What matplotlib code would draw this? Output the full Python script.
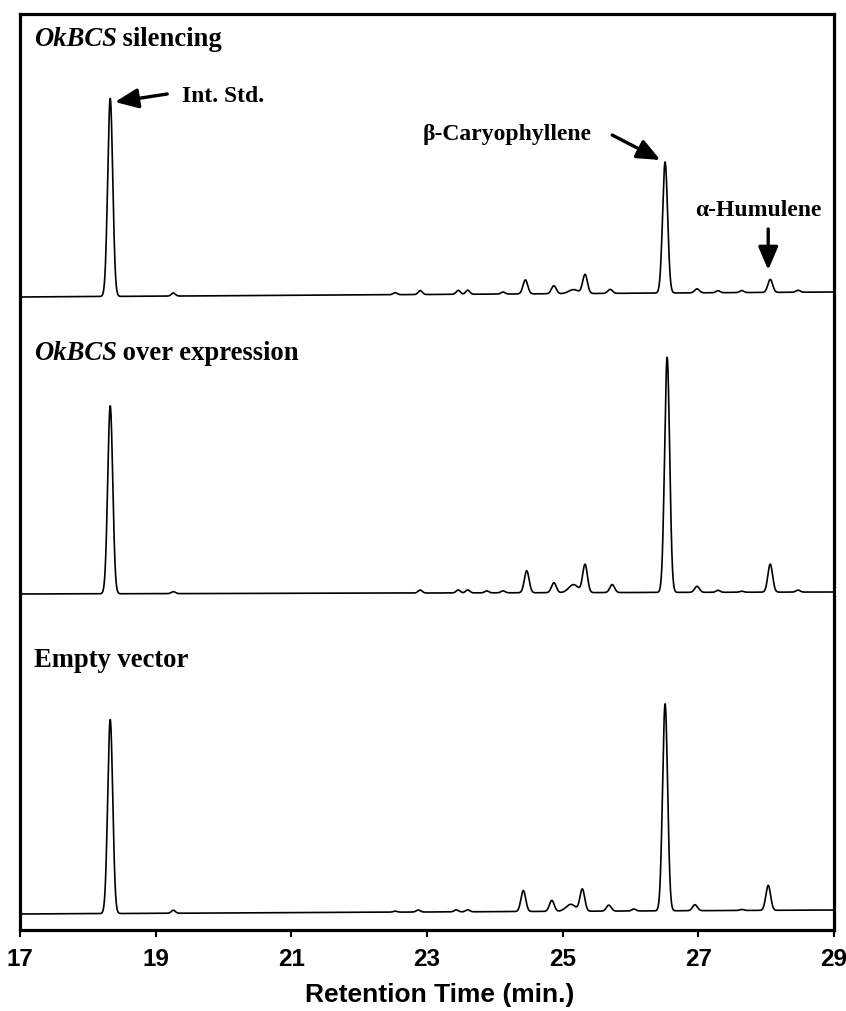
import numpy as np
import matplotlib
matplotlib.use("Agg")
import matplotlib.pyplot as plt

# ---- peak tables (retention time in min, peak height and width in detector units / min) ----
silencing_rt = [18.33, 19.26, 22.53, 22.90, 23.46, 23.60, 24.12, 24.45, 24.87, 25.16, 25.33,
                25.70, 26.51, 26.98, 27.29, 27.64, 28.06, 28.47]
silencing_h = [198, 3, 2, 4, 4, 4, 2, 14, 8, 4, 19, 4, 131, 4, 2, 2, 13, 2]
silencing_w = [0.037, 0.03, 0.03, 0.03, 0.03, 0.03, 0.03, 0.035, 0.035, 0.07, 0.035,
               0.035, 0.037, 0.035, 0.03, 0.03, 0.035, 0.03]
silencing_baseline = (633, 638)

overexp_rt = [18.33, 19.26, 22.90, 23.46, 23.60, 23.88, 24.12, 24.47, 24.87, 25.16, 25.33,
              25.73, 26.54, 26.98, 27.29, 27.64, 28.06, 28.47]
overexp_h = [188, 2, 3, 3, 3, 2, 2, 22, 10, 8, 28, 8, 235, 6, 2, 1, 28, 2]
overexp_w = [0.037, 0.03, 0.03, 0.03, 0.03, 0.03, 0.03, 0.035, 0.035, 0.07, 0.035,
             0.035, 0.037, 0.035, 0.03, 0.03, 0.035, 0.03]
overexp_baseline = (336, 338)

empty_rt = [18.33, 19.26, 22.53, 22.87, 23.43, 23.60, 24.42, 24.84, 25.12, 25.29, 25.68,
            26.05, 26.51, 26.95, 27.64, 28.03]
empty_h = [194, 3, 1, 2, 2, 2, 21, 11, 7, 22, 6, 2, 207, 6, 1, 25]
empty_w = [0.037, 0.03, 0.03, 0.03, 0.03, 0.03, 0.035, 0.035, 0.07, 0.035, 0.035,
           0.03, 0.037, 0.035, 0.03, 0.035]
empty_baseline = (16, 20)

sample_names = ["silencing", "over expression", "Empty vector"]
x_ticks = [17, 19, 21, 23, 25, 27, 29]
x_label = "Retention Time (min.)"


def chromatogram(t, rts, heights, widths, baseline):
    """Sum of Gaussian peaks on a slowly drifting baseline."""
    y = np.linspace(baseline[0], baseline[1], t.size)
    for rt, h, w in zip(rts, heights, widths):
        y = y + h * np.exp(-0.5 * ((t - rt) / w) ** 2)
    return y


t = np.linspace(17.0, 29.0, 6001)

fig = plt.figure(figsize=(8.46, 10.11), dpi=100)
W, H = 846, 1011
ax_left, ax_right, ax_top, ax_bottom = 20, 834, 14, 930
ax = fig.add_axes([ax_left / W, 1 - ax_bottom / H,
                   (ax_right - ax_left) / W, (ax_bottom - ax_top) / H])

for rts, hs, ws, base in [
    (silencing_rt, silencing_h, silencing_w, silencing_baseline),
    (overexp_rt, overexp_h, overexp_w, overexp_baseline),
    (empty_rt, empty_h, empty_w, empty_baseline),
]:
    ax.plot(t, chromatogram(t, rts, hs, ws, base), color="black", lw=1.2)

ax.set_xlim(17, 29)
ax.set_ylim(0, ax_bottom - ax_top)
ax.set_yticks([])
ax.set_xticks(x_ticks)
ax.tick_params(axis="x", direction="out", length=5, width=1.5, pad=8,
               labelsize=17.5)
for lbl in ax.get_xticklabels():
    lbl.set_fontfamily("Liberation Sans")
    lbl.set_fontweight("bold")
for sp in ax.spines.values():
    sp.set_linewidth(2.3)

ax.set_xlabel(x_label, fontsize=19, fontweight="bold", family="Liberation Sans")
ax.xaxis.set_label_coords(((440 - ax_left) / (ax_right - ax_left)),
                          -(995 - ax_bottom) / (ax_bottom - ax_top))
ax.xaxis.label.set_va("center")

serif = "Liberation Serif"
title_fs = 19.2
note_fs = 17


def sample_title(x, y, rest):
    t1 = ax.text(x, y, "OkBCS", family=serif, fontsize=title_fs, fontweight="bold",
                 fontstyle="italic", va="baseline", ha="left")
    ax.annotate(" " + rest, xy=(1, 0), xycoords=t1, va="bottom", ha="left",
                family=serif, fontsize=title_fs, fontweight="bold")
    return t1


title_x = 17.2
sample_title(title_x, 884, sample_names[0])
sample_title(title_x, 570, sample_names[1])
ax.text(title_x, 263, sample_names[2], family=serif, fontsize=title_fs,
        fontweight="bold", va="baseline", ha="left")

arrow = dict(arrowstyle="-|>,head_length=1.4,head_width=0.6", color="black",
             lw=2.4, shrinkA=0, shrinkB=0)

ax.text(19.39, 828, "Int. Std.", family=serif, fontsize=note_fs, fontweight="bold",
        va="baseline", ha="left")
ax.annotate("", xy=(18.40, 828), xytext=(19.17, 836), arrowprops=arrow)

ax.text(22.94, 790, "\u03b2-Caryophyllene", family=serif, fontsize=note_fs,
        fontweight="bold", va="baseline", ha="left")
ax.annotate("", xy=(26.44, 770), xytext=(25.73, 795), arrowprops=arrow)

ax.text(26.95, 714, "\u03b1-Humulene", family=serif, fontsize=note_fs,
        fontweight="bold", va="baseline", ha="left")
ax.annotate("", xy=(28.03, 660), xytext=(28.03, 701), arrowprops=arrow)

fig.savefig("out.png", dpi=100)
